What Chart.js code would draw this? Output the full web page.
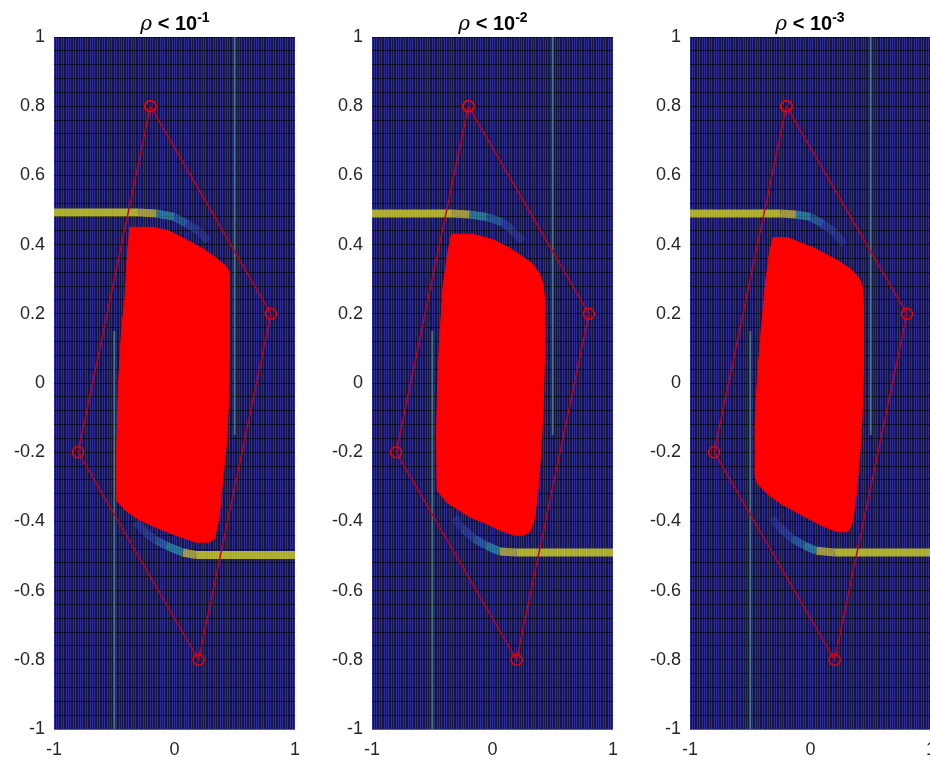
<!DOCTYPE html>
<html>
<head>
<meta charset="utf-8">
<script src="https://cdn.jsdelivr.net/npm/chart.js@4.4.0/dist/chart.umd.min.js"></script>
<style>
  body { margin: 0; width: 930px; height: 763px; overflow: hidden; background: #fff; position: relative; }
  canvas { position: absolute; top: 0; }
  .ttl { position: absolute; top: 9px; width: 200px; margin-left: -100px; text-align: center;
         font: bold 20px "Liberation Sans", Arial, sans-serif; color: #000; }
  .ttl i { font-family: "DejaVu Serif", serif; font-weight: normal; }
  .ttl sup { font-size: 14px; }
</style>
</head>
<body>
<canvas id="p1" width="310" height="763" style="left:0px"></canvas>
<canvas id="p2" width="310" height="763" style="left:318px"></canvas>
<canvas id="p3" width="310" height="763" style="left:636px"></canvas>
<div class="ttl" style="left:175px"><i>ρ</i> &lt; 10<sup>-1</sup></div>
<div class="ttl" style="left:493px"><i>ρ</i> &lt; 10<sup>-2</sup></div>
<div class="ttl" style="left:810px"><i>ρ</i> &lt; 10<sup>-3</sup></div>
<script>
// tick labels
const xTicks = [-1, 0, 1]
const yTicks = [1, 0.8, 0.6, 0.4, 0.2, 0, -0.2, -0.4, -0.6, -0.8, -1]
const yTickLabels = ['1', '0.8', '0.6', '0.4', '0.2', '0', '-0.2', '-0.4', '-0.6', '-0.8', '-1']

// polygon through the four sample points (closed)
const quad = [[-0.2, 0.8], [0.8, 0.2], [0.2, -0.8], [-0.8, -0.2], [-0.2, 0.8]]

// red region outline, one per panel
const region1 = [[-0.37,0.45],[-0.18,0.45],[-0.05,0.44],[0.12,0.41],[0.25,0.385],[0.35,0.36],[0.42,0.34],[0.455,0.32],[0.455,0.1],[0.45,-0.05],[0.43,-0.18],[0.40,-0.28],[0.37,-0.39],[0.33,-0.45],[0.29,-0.46],[0.18,-0.46],[0.05,-0.445],[-0.1,-0.425],[-0.29,-0.396],[-0.40,-0.37],[-0.48,-0.34],[-0.48,-0.2],[-0.465,0.0],[-0.44,0.15],[-0.41,0.25],[-0.39,0.38],[-0.37,0.45]]
const region2 = [[-0.34,0.43],[-0.165,0.43],[0.0,0.415],[0.14,0.39],[0.25,0.365],[0.33,0.345],[0.39,0.315],[0.42,0.285],[0.43,0.25],[0.43,0.05],[0.42,-0.08],[0.40,-0.2],[0.38,-0.3],[0.35,-0.39],[0.31,-0.43],[0.26,-0.44],[0.18,-0.44],[0.06,-0.425],[-0.06,-0.405],[-0.19,-0.387],[-0.31,-0.36],[-0.38,-0.345],[-0.46,-0.31],[-0.465,-0.15],[-0.455,0.0],[-0.44,0.12],[-0.41,0.28],[-0.37,0.38],[-0.34,0.43]]
const region3 = [[-0.31,0.42],[-0.19,0.42],[0.03,0.39],[0.22,0.355],[0.33,0.33],[0.40,0.305],[0.43,0.28],[0.44,0.22],[0.44,0.05],[0.43,-0.08],[0.41,-0.2],[0.38,-0.32],[0.35,-0.40],[0.31,-0.43],[0.22,-0.43],[0.08,-0.41],[-0.08,-0.38],[-0.24,-0.35],[-0.36,-0.32],[-0.44,-0.29],[-0.46,-0.27],[-0.46,-0.12],[-0.44,0.02],[-0.41,0.15],[-0.37,0.30],[-0.34,0.38],[-0.31,0.42]]

// bright bands at y = +/-0.5 bending round the region
const topBand1 = [[-1,0.493],[-0.3,0.493],[-0.15,0.49],[0.0,0.48],[0.1,0.46],[0.2,0.44],[0.28,0.41]]
const botBand1 = [[1,-0.497],[0.18,-0.497],[0.07,-0.49],[-0.07,-0.47],[-0.15,-0.455],[-0.25,-0.43],[-0.32,-0.40]]
const topBand2 = [[-1,0.49],[-0.33,0.49],[-0.19,0.487],[-0.05,0.48],[0.08,0.465],[0.17,0.44],[0.25,0.41]]
const botBand2 = [[1,-0.49],[0.2,-0.49],[0.06,-0.487],[-0.05,-0.47],[-0.15,-0.45],[-0.25,-0.42],[-0.32,-0.39]]
const topBand3 = [[-1,0.49],[-0.25,0.49],[-0.12,0.487],[0.0,0.48],[0.1,0.46],[0.2,0.435],[0.28,0.40]]
const botBand3 = [[1,-0.49],[0.2,-0.49],[0.05,-0.485],[-0.05,-0.47],[-0.15,-0.45],[-0.25,-0.42],[-0.32,-0.39]]

// faint vertical lines at x = +/-0.5
const upperLine = [[0.5, 1], [0.5, -0.15]]
const lowerLine = [[-0.5, 0.15], [-0.5, -1]]

const bandColors = ['rgba(200,200,40,0.85)', 'rgba(190,180,60,0.8)', 'rgba(50,170,180,0.6)', 'rgba(50,140,200,0.45)', 'rgba(60,100,210,0.35)', 'rgba(70,90,220,0.25)']

const pts = arr => arr.map(p => ({ x: p[0], y: p[1] }))

const xGrid = Array.from({ length: 101 }, (_, i) => Math.round((-1 + i * 0.02) * 100) / 100)
const yGrid = Array.from({ length: 51 }, (_, i) => Math.round((-1 + i * 0.04) * 100) / 100)

const plotBg = {
  id: 'plotBg',
  beforeDraw(chart) {
    const a = chart.chartArea
    chart.ctx.save()
    chart.ctx.fillStyle = '#151548'
    chart.ctx.fillRect(a.left, a.top, a.right - a.left, a.bottom - a.top)
    chart.ctx.restore()
  }
}

const tickFont = { family: '"Liberation Sans", Arial, sans-serif', size: 18 }

const renderPanel = (id, region, topBand, botBand, padRight) => {
  const bandSeg = { borderColor: ctx => bandColors[ctx.p0DataIndex] }
  const data = {
    datasets: [
      {
        data: pts(quad), showLine: true, borderColor: '#c0001c', borderWidth: 1.5,
        pointRadius: 5.5, pointBorderColor: '#f00000', pointBorderWidth: 1.5,
        pointBackgroundColor: 'rgba(0,0,0,0)', order: 0
      },
      {
        data: pts(region), showLine: true, fill: 'shape', backgroundColor: '#ff0000',
        borderColor: '#ff0000', borderWidth: 1, pointRadius: 0, order: 1
      },
      { data: pts(topBand), showLine: true, borderWidth: 8, pointRadius: 0, segment: bandSeg, order: 2 },
      { data: pts(botBand), showLine: true, borderWidth: 8, pointRadius: 0, segment: bandSeg, order: 2 },
      { data: pts(upperLine), showLine: true, borderColor: 'rgba(80,160,100,0.7)', borderWidth: 2, pointRadius: 0, order: 3 },
      { data: pts(lowerLine), showLine: true, borderColor: 'rgba(80,160,100,0.7)', borderWidth: 2, pointRadius: 0, order: 3 }
    ]
  }
  const config = {
    type: 'scatter',
    data: data,
    plugins: [plotBg],
    options: {
      responsive: false,
      animation: false,
      layout: { padding: { top: 37, right: padRight, bottom: 0, left: 0 } },
      plugins: { legend: { display: false }, tooltip: { enabled: false } },
      scales: {
        x: {
          type: 'linear', min: -1, max: 1,
          afterBuildTicks: axis => { axis.ticks = xGrid.map(v => ({ value: v })) },
          afterFit: scale => { scale.height = 34 },
          border: { display: false },
          grid: { color: 'rgba(64,64,200,0.6)', lineWidth: 1, drawTicks: false },
          ticks: {
            autoSkip: false, maxRotation: 0, minRotation: 0, padding: 10,
            font: tickFont, color: '#262626',
            callback: v => (xTicks.some(t => Math.abs(t - v) < 1e-6) ? String(Math.round(v)) : '')
          }
        },
        y: {
          type: 'linear', min: -1, max: 1,
          afterBuildTicks: axis => { axis.ticks = yGrid.map(v => ({ value: v })) },
          afterFit: scale => { scale.width = 54 },
          border: { display: false },
          grid: { color: 'rgba(0,0,0,0.6)', lineWidth: 1, drawTicks: false },
          ticks: {
            autoSkip: false, padding: 9, font: tickFont, color: '#262626',
            callback: v => {
              const i = yTicks.findIndex(t => Math.abs(t - v) < 1e-6)
              return i >= 0 ? yTickLabels[i] : ''
            }
          }
        }
      }
    }
  }
  new Chart(document.getElementById(id), config)
}

renderPanel('p1', region1, topBand1, botBand1, 14)
renderPanel('p2', region2, topBand2, botBand2, 14)
renderPanel('p3', region3, topBand3, botBand3, 15)
</script>
</body>
</html>
